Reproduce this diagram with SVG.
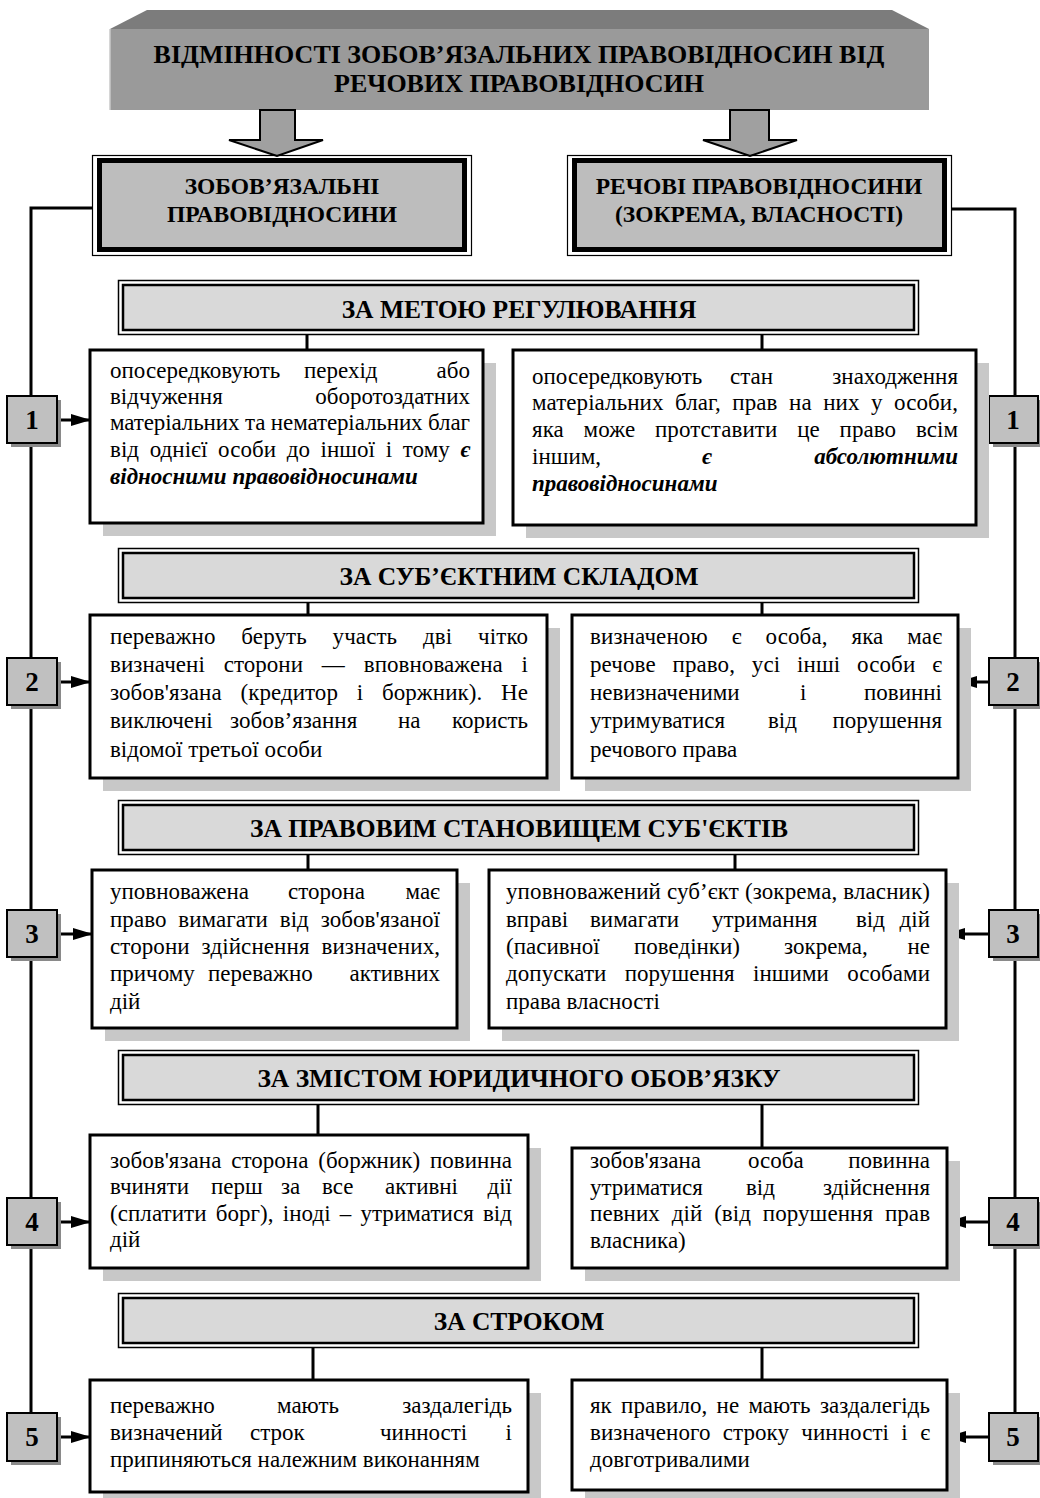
<svg xmlns="http://www.w3.org/2000/svg" width="1040" height="1498" viewBox="0 0 1040 1498">
<defs>
<style>
.t{font-family:"Liberation Serif","Times New Roman",serif;font-size:23px;fill:#000}
.bi{font-weight:bold;font-style:italic}
.h{font-family:"Liberation Serif","Times New Roman",serif;font-size:25.5px;font-weight:bold;fill:#000;text-anchor:middle}
.ht{font-size:26px}
.hs{font-size:23.5px}
.num{font-family:"Liberation Serif","Times New Roman",serif;font-size:27px;font-weight:bold;fill:#000;text-anchor:middle}
.e{text-anchor:end}
.ln{stroke:#000;stroke-width:3;fill:none}
.box{fill:#fff;stroke:#000;stroke-width:3}
.sh{fill:#c8c8c8}
.hdo{fill:none;stroke:#000;stroke-width:1.5}
.hdi{fill:#d9d9d9;stroke:#000;stroke-width:2.5}
.nb{fill:#c0c0c0;stroke:#000;stroke-width:2}
.nbs{fill:#8a8a8a}
.sbo{fill:none;stroke:#000;stroke-width:1.2}
.sbi{fill:#bdbdbd;stroke:#000;stroke-width:5}
.barr{fill:#a0a0a0;stroke:#000;stroke-width:2}
</style>
<marker id="ah" viewBox="0 0 20 14" markerUnits="userSpaceOnUse" markerWidth="20" markerHeight="14" refX="19" refY="7" orient="auto">
<path d="M0,1 L20,7 L0,13 z" fill="#000"/>
</marker>
</defs>
<rect width="1040" height="1498" fill="#fff"/>

<g id="connectors">
<path class="ln" d="M92,208 H31 V1413"/>
<path class="ln" d="M952,209 H1015 V1413"/>
<path class="ln" d="M307,335 V350 M762,335 V350"/>
<path class="ln" d="M308,603 V615 M762,603 V615"/>
<path class="ln" d="M308,855 V870 M735,855 V870"/>
<path class="ln" d="M318,1105 V1135 M762,1105 V1148"/>
<path class="ln" d="M313,1348 V1380 M762,1348 V1380"/>
<line class="ln" x1="57" y1="420" x2="90" y2="420" marker-end="url(#ah)"/>
<line class="ln" x1="989" y1="420" x2="976" y2="420" marker-end="url(#ah)"/>
<line class="ln" x1="57" y1="682" x2="90" y2="682" marker-end="url(#ah)"/>
<line class="ln" x1="989" y1="682" x2="958" y2="682" marker-end="url(#ah)"/>
<line class="ln" x1="57" y1="934" x2="92" y2="934" marker-end="url(#ah)"/>
<line class="ln" x1="989" y1="934" x2="946" y2="934" marker-end="url(#ah)"/>
<line class="ln" x1="57" y1="1222" x2="90" y2="1222" marker-end="url(#ah)"/>
<line class="ln" x1="989" y1="1222" x2="947" y2="1222" marker-end="url(#ah)"/>
<line class="ln" x1="57" y1="1437" x2="90" y2="1437" marker-end="url(#ah)"/>
<line class="ln" x1="989" y1="1437" x2="947" y2="1437" marker-end="url(#ah)"/>
</g>

<g id="title">
<polygon points="147,10 892,10 929,29 110,29" fill="#7c7c7c"/>
<rect x="110" y="29" width="819" height="81" fill="#9a9a9a"/>
<line x1="110" y1="29" x2="110" y2="110" stroke="#c8c8c8" stroke-width="1.5"/>
<text class="h ht" x="519" y="63">ВІДМІННОСТІ ЗОБОВ’ЯЗАЛЬНИХ ПРАВОВІДНОСИН ВІД</text>
<text class="h ht" x="519" y="92">РЕЧОВИХ ПРАВОВІДНОСИН</text>
</g>

<g id="arrow-left">
<polygon class="barr" points="260,110 295,110 295,140 323,140 277,156 229,140 260,140"/>
</g>
<g id="arrow-right">
<polygon class="barr" points="730,110 769,110 769,140 797,140 750,156 703,140 730,140"/>
</g>

<g id="obligations">
<rect class="sbo" x="92.5" y="155.5" width="379" height="100"/>
<rect class="sbi" x="99.5" y="160.5" width="365" height="89"/>
<text class="h hs" x="282" y="194">ЗОБОВ’ЯЗАЛЬНІ</text>
<text class="h hs" x="282" y="222">ПРАВОВІДНОСИНИ</text>
</g>

<g id="property">
<rect class="sbo" x="567.5" y="155.5" width="384" height="100"/>
<rect class="sbi" x="574.5" y="160.5" width="370" height="89"/>
<text class="h hs" x="759" y="194">РЕЧОВІ ПРАВОВІДНОСИНИ</text>
<text class="h hs" x="759" y="222">(ЗОКРЕМА, ВЛАСНОСТІ)</text>
</g>

<g id="h1">
<rect class="hdo" x="118.5" y="280.5" width="800" height="54"/>
<rect class="hdi" x="123" y="285" width="791" height="45"/>
<text class="h" x="519" y="318">ЗА МЕТОЮ РЕГУЛЮВАННЯ</text>
</g>
<g id="h2">
<rect class="hdo" x="118.5" y="548.5" width="800" height="54"/>
<rect class="hdi" x="123" y="553" width="791" height="45"/>
<text class="h" x="519" y="585">ЗА СУБ’ЄКТНИМ СКЛАДОМ</text>
</g>
<g id="h3">
<rect class="hdo" x="118.5" y="800.5" width="800" height="54"/>
<rect class="hdi" x="123" y="805" width="791" height="45"/>
<text class="h" x="519" y="837">ЗА ПРАВОВИМ СТАНОВИЩЕМ СУБ'ЄКТІВ</text>
</g>
<g id="h4">
<rect class="hdo" x="118.5" y="1050.5" width="800" height="54"/>
<rect class="hdi" x="123" y="1055" width="791" height="45"/>
<text class="h" x="519" y="1087">ЗА ЗМІСТОМ ЮРИДИЧНОГО ОБОВ’ЯЗКУ</text>
</g>
<g id="h5">
<rect class="hdo" x="118.5" y="1293.5" width="800" height="54"/>
<rect class="hdi" x="123" y="1298" width="791" height="45"/>
<text class="h" x="519" y="1330">ЗА СТРОКОМ</text>
</g>

<g id="n1l"><rect class="nbs" x="11" y="400" width="50" height="47"/><rect class="nb" x="7" y="396" width="50" height="47"/><text class="num" x="32" y="429">1</text></g>
<g id="n1r"><rect class="nbs" x="993" y="400" width="49" height="47"/><rect class="nb" x="989" y="396" width="49" height="47"/><text class="num" x="1013" y="429">1</text></g>
<g id="n2l"><rect class="nbs" x="11" y="662" width="50" height="47"/><rect class="nb" x="7" y="658" width="50" height="47"/><text class="num" x="32" y="691">2</text></g>
<g id="n2r"><rect class="nbs" x="993" y="662" width="49" height="47"/><rect class="nb" x="989" y="658" width="49" height="47"/><text class="num" x="1013" y="691">2</text></g>
<g id="n3l"><rect class="nbs" x="11" y="914" width="50" height="47"/><rect class="nb" x="7" y="910" width="50" height="47"/><text class="num" x="32" y="943">3</text></g>
<g id="n3r"><rect class="nbs" x="993" y="914" width="49" height="47"/><rect class="nb" x="989" y="910" width="49" height="47"/><text class="num" x="1013" y="943">3</text></g>
<g id="n4l"><rect class="nbs" x="11" y="1202" width="50" height="47"/><rect class="nb" x="7" y="1198" width="50" height="47"/><text class="num" x="32" y="1231">4</text></g>
<g id="n4r"><rect class="nbs" x="993" y="1202" width="49" height="47"/><rect class="nb" x="989" y="1198" width="49" height="47"/><text class="num" x="1013" y="1231">4</text></g>
<g id="n5l"><rect class="nbs" x="11" y="1417" width="50" height="48"/><rect class="nb" x="7" y="1413" width="50" height="48"/><text class="num" x="32" y="1446">5</text></g>
<g id="n5r"><rect class="nbs" x="993" y="1417" width="49" height="48"/><rect class="nb" x="989" y="1413" width="49" height="48"/><text class="num" x="1013" y="1446">5</text></g>

<g id="b1l">
<rect class="sh" x="103" y="363" width="393" height="173"/>
<rect class="box" x="90" y="350" width="393" height="173"/>
<text class="t" y="378"><tspan x="110">опосередковують</tspan><tspan x="304">перехід</tspan><tspan x="470" class="e">або</tspan></text>
<text class="t" y="404"><tspan x="110">відчуження</tspan><tspan x="470" class="e">оборотоздатних</tspan></text>
<text class="t" x="110" y="430" textLength="360" lengthAdjust="spacing">матеріальних та нематеріальних благ</text>
<text class="t" x="110" y="457" textLength="360" lengthAdjust="spacing" style="word-spacing:4.9px">від однієї особи до іншої і тому <tspan class="bi">є</tspan></text>
<text class="t bi" x="110" y="484">відносними правовідносинами</text>
</g>

<g id="b1r">
<rect class="sh" x="526" y="363" width="463" height="175"/>
<rect class="box" x="513" y="350" width="463" height="175"/>
<text class="t" y="384"><tspan x="532">опосередковують</tspan><tspan x="730">стан</tspan><tspan x="958" class="e">знаходження</tspan></text>
<text class="t" x="532" y="410" textLength="426" lengthAdjust="spacing" style="word-spacing:5.7px">матеріальних благ, прав на них у особи,</text>
<text class="t" x="532" y="437" textLength="426" lengthAdjust="spacing" style="word-spacing:14px">яка може протставити це право всім</text>
<text class="t" y="464"><tspan x="532">іншим,</tspan><tspan x="702" class="bi">є</tspan><tspan x="958" class="e bi">абсолютними</tspan></text>
<text class="t bi" x="532" y="491">правовідносинами</text>
</g>

<g id="b2l">
<rect class="sh" x="103" y="628" width="457" height="163"/>
<rect class="box" x="90" y="615" width="457" height="163"/>
<text class="t" x="110" y="644" textLength="418" lengthAdjust="spacing" style="word-spacing:20px">переважно беруть участь дві чітко</text>
<text class="t" x="110" y="672" textLength="418" lengthAdjust="spacing" style="word-spacing:13px">визначені сторони — вповноважена і</text>
<text class="t" x="110" y="700" textLength="418" lengthAdjust="spacing" style="word-spacing:13px">зобов'язана (кредитор і боржник). Не</text>
<text class="t" y="728"><tspan x="110">виключені</tspan><tspan x="230">зобов’язання</tspan><tspan x="398">на</tspan><tspan x="528" class="e">користь</tspan></text>
<text class="t" x="110" y="757">відомої третьої особи</text>
</g>

<g id="b2r">
<rect class="sh" x="585" y="628" width="386" height="163"/>
<rect class="box" x="572" y="615" width="386" height="163"/>
<text class="t" x="590" y="644" textLength="352" lengthAdjust="spacing" style="word-spacing:18px">визначеною є особа, яка має</text>
<text class="t" x="590" y="672" textLength="352" lengthAdjust="spacing" style="word-spacing:11px">речове право, усі  інші особи є</text>
<text class="t" y="700"><tspan x="590">невизначеними</tspan><tspan x="800">і</tspan><tspan x="942" class="e">повинні</tspan></text>
<text class="t" y="728"><tspan x="590">утримуватися</tspan><tspan x="768">від</tspan><tspan x="942" class="e">порушення</tspan></text>
<text class="t" x="590" y="757">речового права</text>
</g>

<g id="b3l">
<rect class="sh" x="105" y="883" width="365" height="158"/>
<rect class="box" x="92" y="870" width="365" height="158"/>
<text class="t" y="899"><tspan x="110">уповноважена</tspan><tspan x="288">сторона</tspan><tspan x="440" class="e">має</tspan></text>
<text class="t" x="110" y="927" textLength="330" lengthAdjust="spacing" style="word-spacing:6px">право вимагати від зобов'язаної</text>
<text class="t" x="110" y="954" textLength="330" lengthAdjust="spacing" style="word-spacing:6px">сторони здійснення визначених,</text>
<text class="t" y="981"><tspan x="110">причому</tspan><tspan x="208">переважно</tspan><tspan x="440" class="e">активних</tspan></text>
<text class="t" x="110" y="1009">дій</text>
</g>

<g id="b3r">
<rect class="sh" x="502" y="883" width="457" height="158"/>
<rect class="box" x="489" y="870" width="457" height="158"/>
<text class="t" x="506" y="899" textLength="424" lengthAdjust="spacing">уповноважений суб’єкт (зокрема, власник)</text>
<text class="t" y="927"><tspan x="506">вправі</tspan><tspan x="590">вимагати</tspan><tspan x="712">утримання</tspan><tspan x="856">від</tspan><tspan x="930" class="e">дій</tspan></text>
<text class="t" y="954"><tspan x="506">(пасивної</tspan><tspan x="634">поведінки)</tspan><tspan x="784">зокрема,</tspan><tspan x="930" class="e">не</tspan></text>
<text class="t" x="506" y="981" textLength="424" lengthAdjust="spacing" style="word-spacing:12.5px">допускати порушення іншими особами</text>
<text class="t" x="506" y="1009">права власності</text>
</g>

<g id="b4l">
<rect class="sh" x="103" y="1148" width="438" height="133"/>
<rect class="box" x="90" y="1135" width="438" height="133"/>
<text class="t" x="110" y="1168" textLength="402" lengthAdjust="spacing" style="word-spacing:4px">зобов'язана сторона (боржник) повинна</text>
<text class="t" y="1194"><tspan x="110">вчиняти</tspan><tspan x="211">перш</tspan><tspan x="281">за</tspan><tspan x="322">все</tspan><tspan x="385">активні</tspan><tspan x="512" class="e">дії</tspan></text>
<text class="t" x="110" y="1221" textLength="402" lengthAdjust="spacing" style="word-spacing:3.3px">(сплатити борг), іноді – утриматися від</text>
<text class="t" x="110" y="1247">дій</text>
</g>

<g id="b4r">
<rect class="sh" x="585" y="1161" width="375" height="120"/>
<rect class="box" x="572" y="1148" width="375" height="120"/>
<text class="t" y="1168"><tspan x="590">зобов'язана</tspan><tspan x="748">особа</tspan><tspan x="930" class="e">повинна</tspan></text>
<text class="t" y="1195"><tspan x="590">утриматися</tspan><tspan x="746">від</tspan><tspan x="930" class="e">здійснення</tspan></text>
<text class="t" x="590" y="1221" textLength="340" lengthAdjust="spacing" style="word-spacing:6px">певних дій (від порушення прав</text>
<text class="t" x="590" y="1248">власника)</text>
</g>

<g id="b5l">
<rect class="sh" x="103" y="1393" width="438" height="112"/>
<rect class="box" x="90" y="1380" width="438" height="112"/>
<text class="t" y="1413"><tspan x="110">переважно</tspan><tspan x="277">мають</tspan><tspan x="512" class="e">заздалегідь</tspan></text>
<text class="t" y="1440"><tspan x="110">визначений</tspan><tspan x="250">строк</tspan><tspan x="380">чинності</tspan><tspan x="512" class="e">і</tspan></text>
<text class="t" x="110" y="1467">припиняються належним виконанням</text>
</g>

<g id="b5r">
<rect class="sh" x="585" y="1393" width="375" height="110"/>
<rect class="box" x="572" y="1380" width="375" height="110"/>
<text class="t" x="590" y="1413" textLength="340" lengthAdjust="spacing" style="word-spacing:3.5px">як правило, не мають заздалегідь</text>
<text class="t" x="590" y="1440" textLength="340" lengthAdjust="spacing" style="word-spacing:6.5px">визначеного строку чинності і є</text>
<text class="t" x="590" y="1467">довготривалими</text>
</g>
</svg>
